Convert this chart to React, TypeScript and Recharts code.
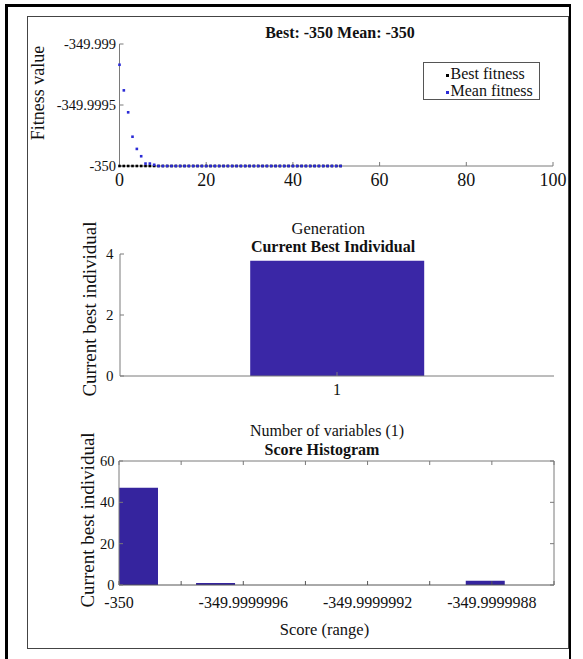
import React from "react";
import { Bar, BarChart, Label, Legend, Scatter, ScatterChart, XAxis, YAxis } from "recharts";

const FONT = '"Liberation Serif", "Times New Roman", serif';
const INK = "#111";
const AXIS = "#7a7a7a";
const BLUE = "#2b2bd6";
const BAR = "#3a27a6";

// GA run: best / mean fitness per generation
const generations = [
  0, 1, 2, 3, 4, 5, 6, 7, 8, 9, 10, 11, 12, 13, 14, 15, 16, 17, 18, 19, 20, 21, 22, 23, 24, 25,
  26, 27, 28, 29, 30, 31, 32, 33, 34, 35, 36, 37, 38, 39, 40, 41, 42, 43, 44, 45, 46, 47, 48, 49, 50, 51,
];
const bestFitness = [
  -350, -350, -350, -350, -350, -350, -350, -350, -350, -350, -350, -350, -350, -350, -350, -350, -350,
  -350, -350, -350, -350, -350, -350, -350, -350, -350, -350, -350, -350, -350, -350, -350, -350, -350,
  -350, -350, -350, -350, -350, -350, -350, -350, -350, -350, -350, -350, -350, -350, -350, -350, -350, -350,
];
const meanFitness = [
  -349.99917, -349.99938, -349.99956, -349.99976, -349.99986, -349.99992, -349.99998, -349.99998, -349.99999,
  -350, -350, -350, -350, -350, -350, -350, -350, -350, -350, -350, -350, -350, -350, -350, -350, -350,
  -350, -350, -350, -350, -350, -350, -350, -350, -350, -350, -350, -350, -350, -350, -350, -350, -350,
  -350, -350, -350, -350, -350, -350, -350, -350, -350,
];
const generationTicks = [0, 20, 40, 60, 80, 100];
const fitnessTicks = [-350, -349.9995, -349.999];

// current best individual
const variables = ["1"];
const currentBest = [3.78];
const individualTicks = [0, 2, 4];

// score histogram (10 bins)
const scoreBins = [
  -349.999999938, -349.999999814, -349.99999969, -349.999999566, -349.999999442, -349.999999318,
  -349.999999194, -349.99999907, -349.999998946, -349.999998822,
];
const scoreCounts = [47, 0, 1, 0, 0, 0, 0, 0, 0, 2];
const scoreTicks = [
  -350, -349.9999998, -349.9999996, -349.9999994, -349.9999992, -349.999999, -349.9999988, -349.9999986,
];
const countTicks = [0, 20, 40, 60];

const bestPoints = generations.map((g, i) => ({ gen: g, fitness: bestFitness[i] }));
const meanPoints = generations.map((g, i) => ({ gen: g, fitness: meanFitness[i] }));
const individualRows = variables.map((v, i) => ({ name: v, value: currentBest[i] }));
const histogramRows = scoreBins.map((s, i) => ({ score: s, count: scoreCounts[i] }));

const squareDot = (color: string) => (props: any) =>
  <rect x={props.cx - 1.3} y={props.cy - 1.3} width={2.6} height={2.6} fill={color} />;

const formatScore = (v: number, i: number) => {
  if (i % 2 !== 0) return "";
  return v === -350 ? "-350" : v.toFixed(7);
};

const tickFont = (size: number) => ({ fill: INK, fontSize: size, fontFamily: FONT });

// box axes: tick marks only, no labels
const noLabel = () => <g />;

function LegendDot({ color }: { color: string }) {
  return (
    <span
      style={{
        display: "inline-block",
        width: 2.5,
        height: 2.5,
        background: color,
        marginRight: 2,
        verticalAlign: "middle",
      }}
    />
  );
}

function FitnessLegend() {
  return (
    <div
      style={{
        width: 117,
        height: 38,
        boxSizing: "border-box",
        border: "1px solid #555",
        background: "#fff",
        padding: "2px 0 0 22px",
        fontFamily: FONT,
        fontSize: 16,
        lineHeight: "17px",
        color: INK,
        whiteSpace: "nowrap",
      }}
    >
      <div>
        <LegendDot color="#000" />
        Best fitness
      </div>
      <div>
        <LegendDot color={BLUE} />
        Mean fitness
      </div>
    </div>
  );
}

function Title({ text, cx, cy }: { text: string; cx: number; cy: number }) {
  return (
    <div
      style={{
        position: "absolute",
        left: cx - 150,
        top: cy - 8.1,
        width: 300,
        textAlign: "center",
        fontWeight: "bold",
        fontSize: 16,
        lineHeight: "16px",
        color: INK,
        whiteSpace: "nowrap",
      }}
    >
      {text}
    </div>
  );
}

const place = (top: number): React.CSSProperties => ({ position: "absolute", left: 0, top });

export default function App() {
  return (
    <div
      style={{
        position: "absolute",
        left: 0,
        top: 0,
        width: 583,
        height: 659,
        overflow: "hidden",
        background: "#fff",
        fontFamily: FONT,
      }}
    >
      <style>{`.recharts-text, .recharts-label { font-family: ${FONT}; }`}</style>
      <div
        style={{
          position: "absolute",
          left: 5,
          top: 4,
          width: 561,
          height: 720,
          borderLeft: "3px solid #000",
          borderTop: "3px solid #000",
          borderRight: "2px solid #000",
        }}
      />
      <div
        style={{
          position: "absolute",
          left: 27,
          top: 16,
          width: 540,
          height: 631,
          border: "1px solid #444",
        }}
      />

      <div style={place(0)}>
        <ScatterChart width={583} height={240} margin={{ top: 44, right: 30, bottom: 24, left: 0 }}>
          <XAxis
            type="number"
            dataKey="gen"
            domain={[0, 100]}
            ticks={generationTicks}
            interval={0}
            tickSize={-4}
            tickMargin={11}
            height={50}
            stroke={AXIS}
            tick={tickFont(18)}
          >
            <Label value="Generation" position="bottom" offset={6} dx={-8} fill={INK} fontSize={16.5} fontFamily={FONT} />
          </XAxis>
          <YAxis
            type="number"
            dataKey="fitness"
            domain={[-350, -349.999]}
            ticks={fitnessTicks}
            interval={0}
            tickSize={-4}
            tickMargin={7.5}
            width={119.5}
            stroke={AXIS}
            tick={tickFont(14.5)}
            tickFormatter={(v: number) => String(v)}
          >
            <Label value="Fitness value" angle={-90} position="center" dx={-22} dy={-12} fill={INK} fontSize={18} fontFamily={FONT} />
          </YAxis>
          <Legend
            layout="vertical"
            align="center"
            verticalAlign="middle"
            wrapperStyle={{ left: 423, top: 62 }}
            content={() => <FitnessLegend />}
          />
          <Scatter name="Best fitness" data={bestPoints} shape={squareDot("#000")} isAnimationActive={false} />
          <Scatter name="Mean fitness" data={meanPoints} shape={squareDot(BLUE)} isAnimationActive={false} />
        </ScatterChart>
      </div>

      <div style={place(200)}>
        <BarChart
          width={583}
          height={250}
          data={individualRows}
          margin={{ top: 54, right: 29, bottom: 40, left: 0 }}
          barCategoryGap="30%"
        >
          <XAxis
            dataKey="name"
            interval={0}
            tickSize={-4}
            tickMargin={12}
            height={34}
            stroke={AXIS}
            tick={tickFont(16)}
          >
            <Label value="Number of variables (1)" position="bottom" offset={15} dx={-10} fill={INK} fontSize={16} fontFamily={FONT} />
          </XAxis>
          <YAxis
            type="number"
            domain={[0, 4]}
            ticks={individualTicks}
            interval={0}
            tickSize={-4}
            tickMargin={10.5}
            width={120}
            stroke={AXIS}
            tick={tickFont(15)}
          >
            <Label value="Current best individual" angle={-90} position="center" dx={29} dy={-6} fill={INK} fontSize={19} fontFamily={FONT} />
          </YAxis>
          <Bar dataKey="value" fill={BAR} isAnimationActive={false} />
        </BarChart>
      </div>

      <div style={place(400)}>
        <BarChart
          width={583}
          height={250}
          data={histogramRows}
          margin={{ top: 60, right: 28, bottom: 29, left: 0 }}
          barCategoryGap={0}
          barGap={0}
        >
          <XAxis
            type="number"
            dataKey="score"
            domain={[scoreTicks[0], scoreTicks[scoreTicks.length - 1]]}
            ticks={scoreTicks}
            interval={0}
            tickSize={-4}
            tickMargin={16}
            height={36}
            stroke="#555"
            tick={tickFont(16)}
            tickFormatter={formatScore}
          >
            <Label value="Score (range)" position="bottom" offset={2} dx={-12} fill={INK} fontSize={16.5} fontFamily={FONT} />
          </XAxis>
          <XAxis
            xAxisId="top"
            orientation="top"
            type="number"
            dataKey="score"
            domain={[scoreTicks[0], scoreTicks[scoreTicks.length - 1]]}
            allowDataOverflow
            ticks={scoreTicks}
            interval={0}
            tickSize={-4}
            height={1}
            stroke={AXIS}
            tick={noLabel}
          />
          <YAxis
            type="number"
            domain={[0, 60]}
            ticks={countTicks}
            interval={0}
            tickSize={-4}
            tickMargin={8.5}
            width={119}
            stroke={AXIS}
            tick={tickFont(14.5)}
          >
            <Label value="Current best individual" angle={-90} position="center" dx={28} dy={-3} fill={INK} fontSize={19} fontFamily={FONT} />
          </YAxis>
          <YAxis
            yAxisId="right"
            orientation="right"
            type="number"
            domain={[0, 60]}
            allowDataOverflow
            ticks={countTicks}
            interval={0}
            tickSize={-4}
            width={1}
            stroke={AXIS}
            tick={noLabel}
          />
          <Bar dataKey="count" fill="#35249e" isAnimationActive={false} />
        </BarChart>
      </div>

      <Title text="Best: -350 Mean: -350" cx={340} cy={33} />
      <Title text="Current Best Individual" cx={333} cy={247.5} />
      <Title text="Score Histogram" cx={322} cy={450.5} />
    </div>
  );
}
